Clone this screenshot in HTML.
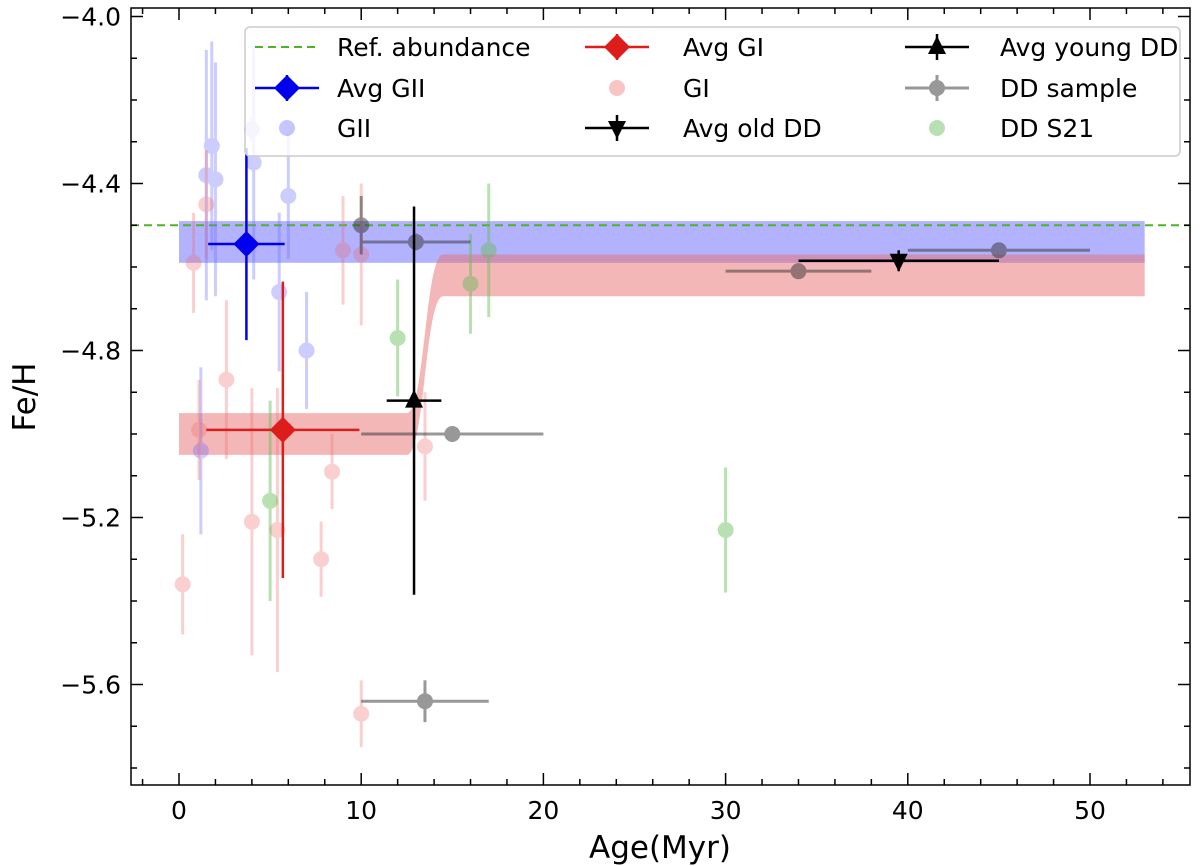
<!DOCTYPE html>
<html><head><meta charset="utf-8"><style>
html,body{margin:0;padding:0;background:#fff;}
svg{display:block;font-family:"DejaVu Sans","Liberation Sans",sans-serif;}
</style></head><body>
<svg id="c" width="1200" height="866" viewBox="0 0 1200 866"></svg>
<script>
const giiAge=[1.5,1.8,2.0,4.0,4.1,6.0,5.5,7.0,1.2];
const giiVal=[-4.38,-4.31,-4.39,-4.27,-4.35,-4.43,-4.66,-4.80,-5.04];
const giiErr=[0.30,0.25,0.28,0.03,0.28,0.15,0.19,0.14,0.20];
const giAge=[0.2,0.8,1.5,1.1,2.6,4.0,5.4,7.8,8.4,9.0,10.0,10.0,13.5];
const giVal=[-5.36,-4.59,-4.45,-4.99,-4.87,-5.21,-5.23,-5.30,-5.09,-4.56,-4.57,-5.67,-5.03];
const giErr=[0.12,0.12,0.13,0.12,0.19,0.32,0.34,0.09,0.09,0.13,0.17,0.08,0.13];
const s21Age=[12.0,16.0,17.0,5.0,30.0];
const s21Val=[-4.77,-4.64,-4.56,-5.16,-5.23];
const s21Err=[0.14,0.12,0.16,0.24,0.15];
const ddAge=[10.0,13.0,15.0,13.5,34.0,45.0];
const ddVal=[-4.50,-4.54,-5.00,-5.64,-4.61,-4.56];
const ddXerr=[0,3,5,3.5,4,5];
const ddYerr=[0.07,0.02,0.01,0.05,0.01,0.01];
const avgGII=[3.7,-4.545,2.1,0.23];
const avgGI=[5.7,-4.99,4.2,0.355];
const avgYoung=[12.9,-4.92,1.5,0.465];
const avgOld=[39.5,-4.585,5.5,0.025];
const refAbund=-4.5;
const blueBand=[0,53,-4.49,-4.59];
const redBandYoung=[0,12.5,-4.95,-5.05];
const redBandOld=[14.5,53,-4.57,-4.67];
const xTicks=[0,10,20,30,40,50];
const yTicks=[-4.0,-4.4,-4.8,-5.2,-5.6];

const L=131,R=1190,T=8,B=785;
const X=v=>179+v*18.22;
const Y=v=>16.5+(-4.0-v)*417.5;
const svg=document.getElementById('c');
const NS='http://www.w3.org/2000/svg';
function mk(tag,at,parent){const e=document.createElementNS(NS,tag);for(const k in at)e.setAttribute(k,at[k]);(parent||svg).appendChild(e);return e;}

let g=mk('g',{});


let e=mk('rect',{x:X(blueBand[0]),y:Y(blueBand[2]),width:X(blueBand[1])-X(blueBand[0]),height:Y(blueBand[3])-Y(blueBand[2]),fill:'#6666ff','fill-opacity':0.5},g);


let x0=X(redBandYoung[0]),x1=X(redBandYoung[1]),x2=X(redBandOld[0]),x3=X(redBandOld[1]);
let d=`M${x0},${Y(redBandYoung[2])} L${x1},${Y(redBandYoung[2])} C${(x1+x2)/2},${Y(redBandYoung[2])} ${(x1+x2)/2},${Y(redBandOld[2])} ${x2},${Y(redBandOld[2])} L${x3},${Y(redBandOld[2])} L${x3},${Y(redBandOld[3])} L${x2},${Y(redBandOld[3])} C${(x1+x2)/2},${Y(redBandOld[3])} ${(x1+x2)/2},${Y(redBandYoung[3])} ${x1},${Y(redBandYoung[3])} L${x0},${Y(redBandYoung[3])} Z`;
e=mk('path',{d:d,fill:'#e87070','fill-opacity':0.5},g);



e=mk('line',{x1:L,x2:R,y1:Y(refAbund),y2:Y(refAbund),stroke:'#4fb32a','stroke-width':2,'stroke-dasharray':'8,5'});



function pts(ages,vals,errs,xerrs,color,op,name){
  const gg=mk('g',{opacity:op});
  
  
  ages.forEach((a,i)=>{
    const cx=X(a),cy=Y(vals[i]);
    mk('line',{x1:cx,x2:cx,y1:Y(vals[i]+errs[i]),y2:Y(vals[i]-errs[i]),stroke:color,'stroke-width':3},gg);
    if(xerrs&&xerrs[i]>0)mk('line',{x1:X(a-xerrs[i]),x2:X(a+xerrs[i]),y1:cy,y2:cy,stroke:color,'stroke-width':3},gg);
    const c=mk('circle',{cx:cx,cy:cy,r:8,fill:color},gg);
    
    
  });
}
pts(giiAge,giiVal,giiErr,null,'#6f6fff',0.35,'gii-series');
pts(giAge,giVal,giErr,null,'#ee6f6f',0.33,'gi-series');
pts(s21Age,s21Val,s21Err,null,'#66bb55',0.45,'dd-s21-series');
pts(ddAge,ddVal,ddYerr,ddXerr,'#333333',0.5,'dd-sample-series');

function avg(a,color,shape,name){
  const gg=mk('g',{});
  
  
  const cx=X(a[0]),cy=Y(a[1]);
  mk('line',{x1:cx,x2:cx,y1:Y(a[1]+a[3]),y2:Y(a[1]-a[3]),stroke:color,'stroke-width':2.5},gg);
  mk('line',{x1:X(a[0]-a[2]),x2:X(a[0]+a[2]),y1:cy,y2:cy,stroke:color,'stroke-width':2.5},gg);
  drawMarker(gg,cx,cy,shape,color);
}
function drawMarker(gg,cx,cy,shape,color){
  let p;
  if(shape==='D')p=`${cx},${cy-13} ${cx+13},${cy} ${cx},${cy+13} ${cx-13},${cy}`;
  else if(shape==='^')p=`${cx},${cy-11} ${cx+9},${cy+7} ${cx-9},${cy+7}`;
  else p=`${cx},${cy+11} ${cx+9},${cy-7} ${cx-9},${cy-7}`;
  mk('polygon',{points:p,fill:color},gg);
}
avg(avgGII,'#0000ee','D','avg-gii');
avg(avgGI,'#dd1c1c','D','avg-gi');
avg(avgYoung,'#000','^','avg-young-dd');
avg(avgOld,'#000','v','avg-old-dd');

e=mk('rect',{x:L,y:T,width:R-L,height:B-T,fill:'none',stroke:'#000','stroke-width':1.5});


const tg=mk('g',{stroke:'#000','stroke-width':1.5});


for(let v=-2;v<=56;v+=2){const x=X(v);if(x<L||x>R)continue;const len=v%10===0?12:6;
  mk('line',{x1:x,x2:x,y1:B,y2:B-len},tg);mk('line',{x1:x,x2:x,y1:T,y2:T+len},tg);}
for(let k=0;k<=18;k++){const v=-4.0-0.1*k;const y=Y(v);if(y>B)continue;const len=k%4===0?12:6;
  mk('line',{x1:L,x2:L+len,y1:y,y2:y},tg);mk('line',{x1:R,x2:R-len,y1:y,y2:y},tg);}
xTicks.forEach(v=>{const t=mk('text',{x:X(v),y:B+34,'font-size':25,'text-anchor':'middle'});t.textContent=v;
  });
yTicks.forEach(v=>{const t=mk('text',{x:L-10,y:Y(v)+9,'font-size':25,'text-anchor':'end'});t.textContent='\u2212'+Math.abs(v).toFixed(1);
  });
e=mk('text',{x:660,y:858,'font-size':31,'text-anchor':'middle'});e.textContent='Age(Myr)';

e=mk('text',{x:0,y:0,'font-size':31,'text-anchor':'middle',transform:'translate(35,397) rotate(-90)'});e.textContent='Fe/H';


const lg=mk('g',{});


mk('rect',{x:245,y:27,width:935,height:129,rx:5,fill:'#fff','fill-opacity':0.8,stroke:'#ccc','stroke-width':1.5},lg);
const entries=[
 [255,47,'line','#4fb32a','Ref. abundance',337],[255,88,'D','#0000ee','Avg GII',337],[255,128,'dot','#6f6fff','GII',337],
 [585,47,'D','#dd1c1c','Avg GI',683],[585,88,'dot','#ee6f6f','GI',683],[585,128,'v','#000','Avg old DD',683],
 [905,47,'^','#000','Avg young DD',1000],[905,88,'ddot','#333','DD sample',1000],[905,128,'dot','#66bb55','DD S21',1000]];
entries.forEach(en=>{
  const [hx,hy,kind,col,label,tx]=en;
  const eg=mk('g',{},lg);
  
  
  const cx=hx+32;
  if(kind==='line')mk('line',{x1:hx,x2:hx+64,y1:hy,y2:hy,stroke:col,'stroke-width':2,'stroke-dasharray':'8,5'},eg);
  else if(kind==='dot'){const o=col==='#66bb55'?0.45:0.4;mk('circle',{cx:cx,cy:hy,r:8,fill:col,opacity:o},eg);}
  else if(kind==='ddot'){const s=mk('g',{opacity:0.5},eg);mk('line',{x1:hx,x2:hx+64,y1:hy,y2:hy,stroke:col,'stroke-width':3},s);mk('line',{x1:cx,x2:cx,y1:hy-13,y2:hy+13,stroke:col,'stroke-width':3},s);mk('circle',{cx:cx,cy:hy,r:8,fill:col},s);}
  else{mk('line',{x1:hx,x2:hx+64,y1:hy,y2:hy,stroke:col,'stroke-width':2.5},eg);mk('line',{x1:cx,x2:cx,y1:hy-13,y2:hy+13,stroke:col,'stroke-width':2.5},eg);drawMarker(eg,cx,hy,kind,col);}
  const t=mk('text',{x:tx,y:hy+9,'font-size':25},eg);t.textContent=label;
});
</script>
</body></html>
